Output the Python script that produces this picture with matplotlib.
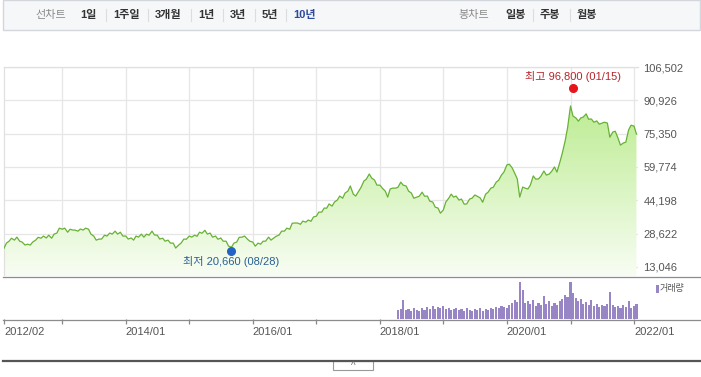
import numpy as np
import pandas as pd
import matplotlib
matplotlib.use("Agg")
import matplotlib.pyplot as plt
import matplotlib.dates as mdates
from matplotlib.colors import LinearSegmentedColormap
from matplotlib.lines import Line2D
from matplotlib.patches import Rectangle

plt.rcParams['font.family'] = ['Liberation Sans', 'Noto Sans CJK KR', 'DejaVu Sans']

# price, semi-monthly closes (won), 2012/02 .. 2022/01
p2012 = [21800, 24200, 25100, 26500, 25600, 27000, 25100, 24700, 23300, 23700, 23300,
         24700, 25600, 26900, 26500, 27500, 26600, 27900, 26500, 28400, 28900, 31200]
p2013 = [30700, 31200, 29300, 30700, 30300, 30300, 29800, 30800, 30300, 31200, 30700, 28400,
         27500, 25600, 26100, 26100, 27900, 27500, 28900, 28400, 29800, 28400, 29300, 27500]
p2014 = [27500, 26100, 26600, 25600, 27500, 27000, 28400, 27000, 28400, 27900, 29800, 28000,
         27900, 26100, 26500, 25100, 25600, 24200, 24200, 21900, 23300, 24200, 26100, 26000]
p2015 = [27500, 27000, 27900, 27400, 29300, 28800, 30200, 28400, 28900, 27000, 27500, 26000,
         26600, 25100, 25100, 22800, 22300, 24200, 24700, 26900, 27000, 27500, 26100, 25100]
p2016 = [24700, 22800, 24200, 23700, 25100, 25100, 27000, 25600, 26600, 27400, 28000, 29800,
         29800, 31200, 30700, 33500, 33600, 33600, 33000, 34500, 34000, 35000, 34400, 36400]
p2017 = [36800, 38700, 38700, 40600, 40500, 42500, 41500, 43400, 44300, 46200, 45200, 47600,
         48500, 50900, 47100, 46200, 48500, 50300, 53200, 54100, 56500, 54600, 53700, 51300]
p2018 = [51300, 49900, 48500, 45700, 49500, 49900, 49900, 50300, 52700, 51300, 50900, 48500,
         47600, 45200, 45700, 46100, 48000, 46100, 46200, 43800, 43400, 41000, 40600, 38200]
p2019 = [39700, 43400, 45200, 47100, 45700, 46200, 44300, 44800, 42400, 42500, 44800, 45200,
         46700, 46100, 45300, 43300, 47100, 48000, 49900, 50300, 52700, 53600, 56000, 57400]
p2020 = [60700, 61100, 59300, 56900, 54200, 45700, 50400, 49900, 49500, 51300, 55600, 54100,
         54200, 55500, 57900, 56000, 56500, 57800, 59800, 57400, 62100, 66300, 71900, 78000]
p2021 = [88300, 83600, 82700, 81200, 82700, 83100, 84600, 82100, 82200, 80700, 81300, 79800,
         80300, 80700, 80300, 73700, 76100, 76500, 73300, 70000, 71000, 71400, 77100, 79300]
p2022 = [78900, 75200]
prices = p2012 + p2013 + p2014 + p2015 + p2016 + p2017 + p2018 + p2019 + p2020 + p2021 + p2022
price_dates = pd.date_range("2012-02-01", periods=len(prices), freq="SMS")

# volume (relative), semi-monthly from 2018/04
volume = [9, 10, 19, 9, 10, 8, 11, 9, 8, 11, 9, 12, 10, 13, 10, 12, 11, 13, 10, 11,
          9, 10, 11, 9, 10, 8, 11, 9, 8, 10, 9, 11, 8, 10, 9, 11, 10, 12, 11, 13,
          12, 11, 14, 16, 19, 17, 37, 29, 16, 18, 15, 19, 13, 16, 14, 23, 15, 18, 13, 16,
          14, 18, 20, 24, 22, 37, 26, 21, 18, 20, 15, 17, 14, 19, 13, 15, 12, 14, 13, 15,
          27, 14, 12, 13, 11, 14, 12, 18, 11, 13, 15]
vol_dates = pd.date_range("2018-04-15", periods=len(volume), freq="SMS")

y_ticks = [13046, 28622, 44198, 59774, 75350, 90926, 106502]
tick_dates = ["2012-02-01"] + [f"{y}-01-01" for y in range(2013, 2023)]
tick_labels = ["2012/02", "", "2014/01", "", "2016/01", "", "2018/01", "", "2020/01", "", "2022/01"]

high_date, high_val, high_txt = "2021-01-15", 96800, "최고 96,800 (01/15)"
low_date, low_val, low_txt = "2015-08-28", 20660, "최저 20,660 (08/28)"

line_tabs = ["1일", "1주일", "3개월", "1년", "3년", "5년", "10년"]
line_tab_x = [80, 113, 155, 198, 230, 262, 293]
bong_tabs = ["일봉", "주봉", "월봉"]
bong_tab_x = [505, 540, 577]

W, H = 701, 377
fig = plt.figure(figsize=(W / 100, H / 100), dpi=100)


def fx(px):
    return px / W


def fy(py):
    return 1 - py / H


# header bar
fig.add_artist(Rectangle((fx(3), fy(30)), fx(697), 30 / H, transform=fig.transFigure,
                         facecolor="#f6f7f9", edgecolor="#d3d6db", lw=1))
fig.text(fx(35), fy(15), "선차트", color="#8a8a8a", fontsize=8, va="center")
for i, (t, x) in enumerate(zip(line_tabs, line_tab_x)):
    col = "#2b4a9b" if t == "10년" else "#333333"
    fig.text(fx(x), fy(15), t, color=col, fontsize=8, weight="bold", va="center")
    if i > 0:
        sx = x - 7
        fig.add_artist(Line2D([fx(sx), fx(sx)], [fy(9), fy(21)], color="#dddddd", lw=0.8))
fig.text(fx(458), fy(15), "봉차트", color="#8a8a8a", fontsize=8, va="center")
for i, (t, x) in enumerate(zip(bong_tabs, bong_tab_x)):
    fig.text(fx(x), fy(15), t, color="#333333", fontsize=8, weight="bold", va="center")
    if i > 0:
        sx = x - 7
        fig.add_artist(Line2D([fx(sx), fx(sx)], [fy(9), fy(21)], color="#dddddd", lw=0.8))

# price panel
xmin = mdates.date2num(pd.Timestamp("2012-02-01"))
xmax = mdates.date2num(pd.Timestamp("2022-01-24"))
ymin, ymax = 8837, 106502

ax = fig.add_axes([fx(4), fy(276), fx(634), 209 / H])
xs = mdates.date2num(price_dates)
ax.plot(xs, prices, color="#68b136", lw=0.9, zorder=3)
poly = ax.fill_between(xs, prices, ymin, color="none", lw=0)
cmap = LinearSegmentedColormap.from_list("g", ["#f8fdf3", "#b0e97e"])
grad = np.linspace(0, 1, 256).reshape(-1, 1)
im = ax.imshow(grad, extent=[xmin, xmax, ymin, ymax], origin="lower", aspect="auto",
               cmap=cmap, zorder=2)
im.set_clip_path(poly.get_paths()[0], transform=ax.transData)
ax.set_xlim(xmin, xmax)
ax.set_ylim(ymin, ymax)
ax.set_xticks(mdates.date2num(pd.to_datetime(tick_dates[1:])))
ax.set_yticks(y_ticks)
ax.grid(True, color="#e6e6e6", lw=0.9, zorder=0)
ax.yaxis.tick_right()
ax.set_yticklabels([f"{v:,}" for v in y_ticks])
ax.tick_params(axis="y", length=0, pad=4, labelsize=8, labelcolor="#555555")
ax.tick_params(axis="x", length=0, labelbottom=False)
for s in ["right", "bottom"]:
    ax.spines[s].set_visible(False)
for s in ["left", "top"]:
    ax.spines[s].set_color("#e0e0e0")
    ax.spines[s].set_linewidth(0.9)

ax.plot(mdates.date2num(pd.Timestamp(high_date)), high_val, "o", color="#e8141c",
        ms=5.5, zorder=5, clip_on=False)
ax.annotate(high_txt, (mdates.date2num(pd.Timestamp(high_date)), high_val),
            xytext=(0, 8), textcoords="offset points", ha="center", va="center",
            fontsize=8, color="#b5242a")
ax.plot(mdates.date2num(pd.Timestamp(low_date)), low_val, "o", color="#2462c4",
        ms=5.5, zorder=5, clip_on=False)
ax.annotate(low_txt, (mdates.date2num(pd.Timestamp(low_date)), low_val),
            xytext=(0, -7.5), textcoords="offset points", ha="center", va="center",
            fontsize=8, color="#2a5f98")

# volume panel
ax2 = fig.add_axes([fx(4), fy(319), fx(634), 43 / H])
ax2.bar(mdates.date2num(vol_dates), volume, width=12.5, color="#9785c6", lw=0)
ax2.set_xlim(xmin, xmax)
ax2.set_ylim(0, 43)
ax2.set_yticks([])
ax2.set_xticks(mdates.date2num(pd.to_datetime(tick_dates)))
ax2.set_xticklabels(tick_labels)
ax2.tick_params(axis="x", length=3.5, width=0.9, color="#888888", pad=2,
                labelsize=8, labelcolor="#555555")
for lbl in ax2.get_xticklabels():
    lbl.set_ha("left")
for s in ax2.spines.values():
    s.set_visible(False)
fig.add_artist(Rectangle((fx(656), fy(293)), fx(3), 8 / H, transform=fig.transFigure,
                         facecolor="#9785c6", lw=0))
fig.text(fx(660), fy(289), "거래량", fontsize=6.5, color="#555555", va="center")

# frame lines
fig.add_artist(Line2D([fx(3), fx(701)], [fy(276.5), fy(276.5)], color="#8c8c8c", lw=0.9))
fig.add_artist(Line2D([fx(3), fx(701)], [fy(319.5), fy(319.5)], color="#8c8c8c", lw=0.9))
fig.add_artist(Line2D([fx(3), fx(701)], [fy(361), fy(361)], color="#555555", lw=1.6))
fig.add_artist(Rectangle((fx(333), fy(370)), fx(40), 9 / H, transform=fig.transFigure,
                         facecolor="white", edgecolor="#999999", lw=0.8))
fig.text(fx(353), fy(366), "^", fontsize=7, color="#666666", ha="center", va="center")

fig.savefig("out.png", dpi=100)
